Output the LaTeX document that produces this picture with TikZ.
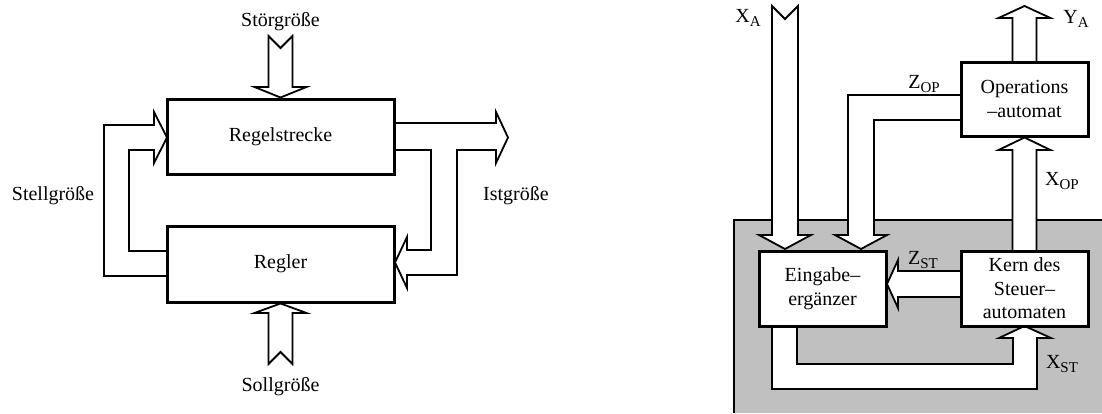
\documentclass[tikz,border=0pt]{standalone}
\usepackage{fontspec}
\setmainfont{Liberation Serif}
\usetikzlibrary{calc}
\pgfdeclarelayer{back}
\pgfdeclarelayer{mid}
\pgfsetlayers{back,mid,main}
\definecolor{panelgray}{RGB}{192,192,192}
\newcommand\subs[1]{\raisebox{-0.4ex}{\fontsize{15}{15}\selectfont #1}}
\tikzset{
  blockbox/.style={draw, line width=3pt, fill=white, inner sep=0pt, align=center,
    font=\fontsize{20}{23.5}\selectfont},
  fatarrow/.style={draw, line width=1.8pt, fill=white, line join=miter},
  lbl/.style={inner sep=0pt, font=\fontsize{20}{23.5}\selectfont}
}
\begin{document}
\begin{tikzpicture}[x=1pt, y=-1pt]
\useasboundingbox (0,0) rectangle (1102,413);

% ---------- left diagram: boxes ----------
\node[blockbox, minimum width=227pt, minimum height=75pt] (rs) at (280.5,136.5) {Regelstrecke};
\node[blockbox, minimum width=227pt, minimum height=76pt] (rg) at (280.5,264) {Regler};

% ---------- right diagram: boxes ----------
\node[blockbox, minimum width=127pt, minimum height=74pt] (op) at (1024.5,99) {Operations\\--automat};
\node[blockbox, minimum width=127pt, minimum height=75pt] (eg) at (822.5,288.5) {Eingabe--\\ergänzer};
\node[blockbox, minimum width=127pt, minimum height=75pt] (kn) at (1024.5,288.5) {Kern des\\Steuer--\\automaten};

\begin{pgfonlayer}{back}
  \fill[panelgray] (734,220) rectangle (1102,413);
  \draw[line width=1.8pt] (734,413) -- (734,220) -- (1102,220);
\end{pgfonlayer}

\begin{pgfonlayer}{mid}
  % Störgröße (down into Regelstrecke)
  \draw[fatarrow] (268.5,36) -- (280.5,48) -- (292.5,36) -- (292.5,87) -- (306.5,87)
     -- (rs.north) -- (254.5,87) -- (268.5,87) -- cycle;
  % Sollgröße (up into Regler)
  \draw[fatarrow] (268.5,364) -- (280.5,352) -- (292.5,364) -- (292.5,313) -- (306.5,313)
     -- (rg.south) -- (254.5,313) -- (268.5,313) -- cycle;
  % Stellgröße (Regler -> Regelstrecke)
  \draw[fatarrow] (167,276) -- (104,276) -- (104,125) -- (154,125) -- (154,112)
     -- (167,137.5) -- (154,163) -- (154,150) -- (129,150) -- (129,251) -- (167,251) -- cycle;
  % Istgröße (Regelstrecke -> out and back to Regler)
  \draw[fatarrow] (394,123) -- (496,123) -- (496,112) -- (508,137.5) -- (496,163)
     -- (496,150) -- (457,150) -- (457,275) -- (407,275) -- (407,288) -- (395,262.5)
     -- (407,237) -- (407,250) -- (431,250) -- (431,150) -- (394,150) -- cycle;

  % X_A (into Eingabeergänzer)
  \draw[fatarrow] (772,6) -- (785,19) -- (798,6) -- (798,235) -- (811,235)
     -- (785,249) -- (759,235) -- (772,235) -- cycle;
  % Z_OP (Operationsautomat -> Eingabeergänzer)
  \draw[fatarrow] (961,95) -- (848,95) -- (848,235) -- (835,235) -- (861,249)
     -- (887,235) -- (874,235) -- (874,120) -- (961,120) -- cycle;
  % Y_A (out of Operationsautomat)
  \draw[fatarrow] (1012.5,62) -- (1012.5,18) -- (998.5,18) -- (1024.5,6) -- (1050.5,18)
     -- (1036.5,18) -- (1036.5,62) -- cycle;
  % X_OP (Kern -> Operationsautomat)
  \draw[fatarrow] (1012.5,251) -- (1012.5,150) -- (998.5,150) -- (1024.5,137.5) -- (1050.5,150)
     -- (1036.5,150) -- (1036.5,251) -- cycle;
  % Z_ST (Kern -> Eingabeergänzer)
  \draw[fatarrow] (961,271) -- (898,271) -- (898,260) -- (887,284) -- (898,308)
     -- (898,297) -- (961,297) -- cycle;
  % X_ST (Eingabeergänzer -> Kern)
  \draw[fatarrow] (772,326) -- (772,389) -- (1037,389) -- (1037,338) -- (1051,338)
     -- (1024.5,326) -- (999,338) -- (1013,338) -- (1013,364) -- (797,364) -- (797,326) -- cycle;
\end{pgfonlayer}

% ---------- labels ----------
\node[lbl] (lstoer) at (280.5,22) {Störgröße};
\node[lbl] (lsoll) at (280.5,387) {Sollgröße};
\node[lbl] (lstell) at (53,196) {Stellgröße};
\node[lbl] (list) at (516,196) {Istgröße};

\node[lbl] (lxa) at (748,18) {X\subs{A}};
\node[lbl] (lya) at (1076,19) {Y\subs{A}};
\node[lbl] (lzop) at (924,84) {Z\subs{OP}};
\node[lbl] (lxop) at (1062,181) {X\subs{OP}};
\node[lbl] (lzst) at (923,260) {Z\subs{ST}};
\node[lbl] (lxst) at (1062,364) {X\subs{ST}};
\end{tikzpicture}
\end{document}
